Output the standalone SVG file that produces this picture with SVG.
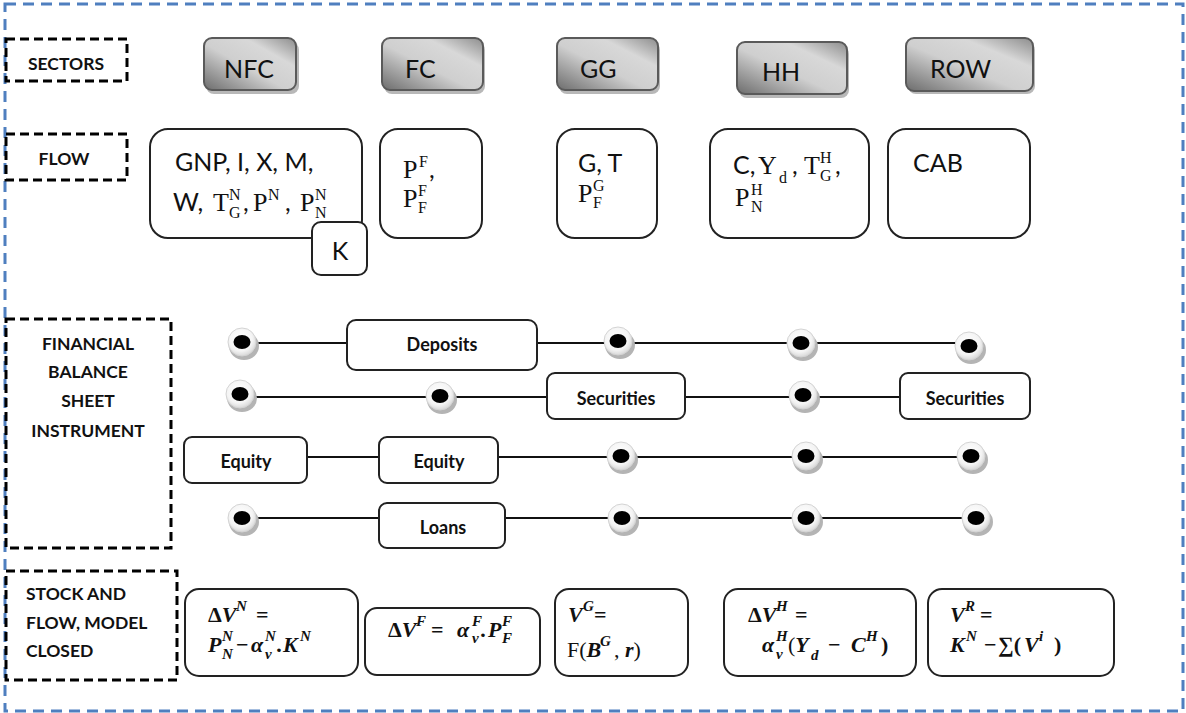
<svg xmlns="http://www.w3.org/2000/svg" xmlns:xlink="http://www.w3.org/1999/xlink" width="1186" height="713" viewBox="0 0 1186 713">
<style>
.outer{fill:none;stroke:#4f7fbf;stroke-width:3;stroke-dasharray:11 7}
.lbl{fill:none;stroke:#000;stroke-width:3;stroke-dasharray:9 5}
.lt{font-family:Lato,"Liberation Sans",sans-serif;font-weight:700;font-size:17.5px;fill:#111}
.sec{fill:url(#sg);stroke:#5a5a5a;stroke-width:2}
.shd{fill:#b8b8b8}
.st{font-family:Lato,"Liberation Sans",sans-serif;font-size:25px;fill:#111}
.box{fill:#fff;stroke:#222;stroke-width:2}
.fs{font-family:Lato,"Liberation Sans",sans-serif;font-size:25px;fill:#111}
.fm{font-family:"Liberation Serif","DejaVu Serif",serif;font-size:26px;fill:#111}
.sc{font-family:"Liberation Serif","DejaVu Serif",serif;font-size:16px;fill:#111}
.it{font-family:Lato,"Liberation Sans",sans-serif;font-weight:700;font-size:18px;fill:#111}
.ln{stroke:#111;stroke-width:2;fill:none}
.eq{font-family:"Liberation Serif","DejaVu Serif",serif;font-weight:700;font-style:italic;font-size:22px;fill:#111}
.es{font-family:"Liberation Serif","DejaVu Serif",serif;font-weight:700;font-style:italic;font-size:15px;fill:#111}
.up{font-style:normal}
</style>
<defs>
<linearGradient id="sg" x1="0" y1="1" x2="1" y2="0">
<stop offset="0" stop-color="#6c6c6c"/>
<stop offset="0.45" stop-color="#cfcfcf"/>
<stop offset="0.72" stop-color="#d8d8d8"/>
<stop offset="1" stop-color="#8c8c8c"/>
</linearGradient>
<radialGradient id="dg" cx="0.45" cy="0.4" r="0.6">
<stop offset="0" stop-color="#ffffff"/>
<stop offset="0.7" stop-color="#f4f4f4"/>
<stop offset="1" stop-color="#d9d9d9"/>
</radialGradient>
<g id="dot">
<ellipse cx="2" cy="4" rx="15" ry="14" fill="#b4b4b4"/>
<circle cx="0" cy="0" r="14" fill="url(#dg)" stroke="#d4d4d4" stroke-width="1"/>
<ellipse cx="0" cy="0" rx="8.5" ry="7" fill="#000"/>
</g>
</defs>
<rect width="1186" height="713" fill="#fff"/>
<rect class="outer" x="5" y="4" width="1178" height="707"/>

<g id="label-sectors"><rect class="lbl" x="6" y="39" width="121" height="42"/><text class="lt" x="66" y="70" text-anchor="middle">SECTORS</text></g>
<g id="label-flow"><rect class="lbl" x="6" y="134" width="121" height="46"/><text class="lt" x="64" y="165" text-anchor="middle">FLOW</text></g>
<g id="label-fbsi"><rect class="lbl" x="6" y="319" width="165" height="229"/>
<text class="lt" x="88" y="350" text-anchor="middle">FINANCIAL</text>
<text class="lt" x="88" y="378" text-anchor="middle">BALANCE</text>
<text class="lt" x="88" y="407" text-anchor="middle">SHEET</text>
<text class="lt" x="88" y="437" text-anchor="middle">INSTRUMENT</text></g>
<g id="label-stock"><rect class="lbl" x="6" y="571" width="171" height="109"/>
<text class="lt" x="26" y="600">STOCK AND</text>
<text class="lt" x="26" y="629">FLOW, MODEL</text>
<text class="lt" x="26" y="657">CLOSED</text></g>

<g id="sec-nfc"><rect class="shd" x="206" y="42" width="93" height="52" rx="8"/><rect class="sec" x="204" y="38" width="92" height="52" rx="8"/><text class="st" x="249" y="78" text-anchor="middle">NFC</text></g>
<g id="sec-fc"><rect class="shd" x="384" y="42" width="101" height="52" rx="8"/><rect class="sec" x="382" y="38" width="101" height="52" rx="8"/><text class="st" x="405" y="78">FC</text></g>
<g id="sec-gg"><rect class="shd" x="559" y="42" width="101" height="52" rx="8"/><rect class="sec" x="557" y="38" width="101" height="52" rx="8"/><text class="st" x="580" y="78">GG</text></g>
<g id="sec-hh"><rect class="shd" x="739" y="46" width="110" height="52" rx="8"/><rect class="sec" x="737" y="42" width="110" height="52" rx="8"/><text class="st" x="762" y="81">HH</text></g>
<g id="sec-row"><rect class="shd" x="908" y="42" width="127" height="52" rx="8"/><rect class="sec" x="906" y="38" width="127" height="53" rx="8"/><text class="st" x="930" y="78">ROW</text></g>

<g id="flow-nfc"><rect class="box" x="150" y="129" width="212" height="109" rx="18"/>
<text class="fs" x="175" y="171">GNP, I, X, M,</text>
<text class="fs" x="173" y="211">W,</text>
<text class="fm" x="213" y="211">T</text><text class="sc" x="229" y="200">N</text><text class="sc" x="229" y="218">G</text>
<text class="fs" x="243" y="211">,</text>
<text class="fm" x="253" y="211">P</text><text class="sc" x="268" y="200">N</text>
<text class="fs" x="285" y="211">,</text>
<text class="fm" x="300" y="211">P</text><text class="sc" x="315" y="200">N</text><text class="sc" x="315" y="218">N</text></g>
<g id="flow-k"><rect class="box" x="312" y="222" width="55" height="53" rx="9"/><text class="fs" x="340" y="260" text-anchor="middle">K</text></g>
<g id="flow-fc"><rect class="box" x="380" y="129" width="102" height="109" rx="18"/>
<text class="fm" x="403" y="178">P</text><text class="sc" x="419" y="167">F</text><text class="fs" x="429" y="178">,</text>
<text class="fm" x="403" y="207">P</text><text class="sc" x="418" y="196">F</text><text class="sc" x="418" y="213">F</text></g>
<g id="flow-gg"><rect class="box" x="557" y="129" width="100" height="109" rx="18"/>
<text class="fs" x="578" y="172">G, T</text>
<text class="fm" x="578" y="202">P</text><text class="sc" x="593" y="191">G</text><text class="sc" x="593" y="208">F</text></g>
<g id="flow-hh"><rect class="box" x="710" y="129" width="159" height="109" rx="18"/>
<text class="fs" x="733" y="174">C,</text>
<text class="fm" x="758" y="174">Y</text><text class="sc" x="779" y="183">d</text>
<text class="fs" x="792" y="174">,</text>
<text class="fm" x="804" y="174">T</text><text class="sc" x="820" y="163">H</text><text class="sc" x="820" y="181">G</text>
<text class="fs" x="835" y="174">,</text>
<text class="fm" x="735" y="206">P</text><text class="sc" x="751" y="195">H</text><text class="sc" x="751" y="212">N</text></g>
<g id="flow-row"><rect class="box" x="888" y="129" width="142" height="109" rx="18"/><text class="fs" x="913" y="172">CAB</text></g>

<g id="connectors">
<line class="ln" x1="242" y1="343" x2="968" y2="343"/>
<line class="ln" x1="242" y1="397" x2="900" y2="397"/>
<line class="ln" x1="307" y1="457" x2="972" y2="457"/>
<line class="ln" x1="243" y1="518" x2="975" y2="518"/>
</g>

<g id="instruments">
<g id="n-dep"><rect class="box" x="347" y="320" width="190" height="50" rx="9"/><text class="it" x="442" y="351" text-anchor="middle">Deposits</text></g>
<g id="n-sec1"><rect class="box" x="547" y="373" width="138" height="46" rx="8"/><text class="it" x="616" y="405" text-anchor="middle">Securities</text></g>
<g id="n-sec2"><rect class="box" x="900" y="373" width="130" height="46" rx="8"/><text class="it" x="965" y="405" text-anchor="middle">Securities</text></g>
<g id="n-eq1"><rect class="box" x="184" y="437" width="123" height="46" rx="8"/><text class="it" x="246" y="468" text-anchor="middle">Equity</text></g>
<g id="n-eq2"><rect class="box" x="379" y="437" width="119" height="46" rx="8"/><text class="it" x="439" y="468" text-anchor="middle">Equity</text></g>
<g id="n-loans"><rect class="box" x="379" y="503" width="126" height="45" rx="8"/><text class="it" x="443" y="534" text-anchor="middle">Loans</text></g>
</g>

<g id="dots">
<use xlink:href="#dot" x="242" y="342"/>
<use xlink:href="#dot" x="618" y="341"/>
<use xlink:href="#dot" x="801" y="343"/>
<use xlink:href="#dot" x="969" y="346"/>
<use xlink:href="#dot" x="240" y="394"/>
<use xlink:href="#dot" x="440" y="396"/>
<use xlink:href="#dot" x="803" y="395"/>
<use xlink:href="#dot" x="621" y="456"/>
<use xlink:href="#dot" x="806" y="456"/>
<use xlink:href="#dot" x="971" y="456"/>
<use xlink:href="#dot" x="242" y="518"/>
<use xlink:href="#dot" x="622" y="518"/>
<use xlink:href="#dot" x="806" y="518"/>
<use xlink:href="#dot" x="976" y="518"/>
</g>

<g id="eq-nfc"><rect class="box" x="185" y="589" width="173" height="87" rx="14"/>
<text class="eq" x="208" y="622"><tspan class="up">Δ</tspan>V</text><text class="es" x="236" y="611">N</text><text class="eq up" x="256" y="622">=</text>
<text class="eq" x="208" y="652">P</text><text class="es" x="222" y="641">N</text><text class="es" x="222" y="659">N</text>
<text class="eq up" x="236" y="652">−</text>
<text class="eq" x="251" y="652">α</text><text class="es" x="265" y="641">N</text><text class="es" x="265" y="659">v</text>
<text class="eq" x="277" y="652">.</text>
<text class="eq" x="283" y="652">K</text><text class="es" x="300" y="641">N</text></g>

<g id="eq-fc"><rect class="box" x="365" y="608" width="175" height="67" rx="12"/>
<text class="eq" x="388" y="637"><tspan class="up">Δ</tspan>V</text><text class="es" x="416" y="626">F</text>
<text class="eq up" x="431" y="637">=</text>
<text class="eq" x="457" y="637">α</text><text class="es" x="472" y="626">F</text><text class="es" x="472" y="643">v</text>
<text class="eq" x="481" y="637">.</text>
<text class="eq" x="488" y="637">P</text><text class="es" x="502" y="626">F</text><text class="es" x="502" y="643">F</text></g>

<g id="eq-gg"><rect class="box" x="555" y="589" width="133" height="87" rx="14"/>
<text class="eq" x="568" y="622">V</text><text class="es" x="583" y="611">G</text><text class="eq up" x="594" y="622" font-size="17">=</text>
<text class="eq" x="567" y="657"><tspan class="up" font-weight="400">F(</tspan>B</text><text class="es" x="600" y="646">G</text>
<text class="eq" x="614" y="657"><tspan class="up" font-weight="400">,</tspan> r<tspan class="up" font-weight="400">)</tspan></text></g>

<g id="eq-hh"><rect class="box" x="724" y="589" width="192" height="87" rx="14"/>
<text class="eq" x="748" y="622"><tspan class="up">Δ</tspan>V</text><text class="es" x="776" y="611">H</text><text class="eq up" x="795" y="622">=</text>
<text class="eq" x="762" y="652">α</text><text class="es" x="776" y="641">H</text><text class="es" x="776" y="659">v</text>
<text class="eq" x="788" y="652"><tspan class="up" font-weight="400">(</tspan>Y</text><text class="es" x="811" y="660">d</text>
<text class="eq up" x="828" y="652">−</text>
<text class="eq" x="851" y="652">C</text><text class="es" x="866" y="641">H</text>
<text class="eq up" x="881" y="652" font-weight="400">)</text></g>

<g id="eq-row"><rect class="box" x="928" y="589" width="186" height="87" rx="14"/>
<text class="eq" x="950" y="622">V</text><text class="es" x="965" y="611">R</text><text class="eq up" x="980" y="622">=</text>
<text class="eq" x="950" y="652">K</text><text class="es" x="966" y="641">N</text>
<text class="eq up" x="984" y="652">−</text>
<text class="eq up" x="998" y="652" font-weight="400">∑(</text>
<text class="eq" x="1024" y="652">V</text><text class="es" x="1039" y="641">i</text>
<text class="eq up" x="1054" y="652" font-weight="400">)</text></g>
</svg>
